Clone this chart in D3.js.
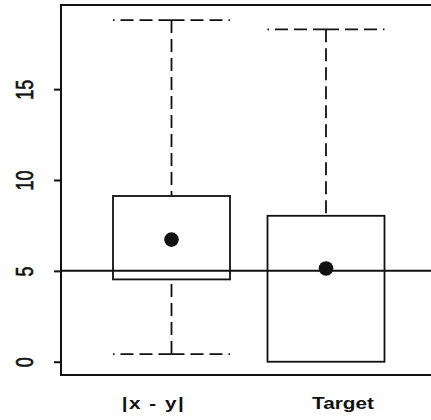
<!DOCTYPE html>
<html>
<head>
<meta charset="utf-8">
<script src="https://cdn.jsdelivr.net/npm/d3@7"></script>
<style>
  html, body { margin: 0; padding: 0; background: #fff; }
  svg { display: block; }
  text { font-family: "Liberation Sans", Arial, Helvetica, sans-serif; fill: #111; }
</style>
</head>
<body>
<div id="chart"></div>
<script>
// Box summaries for the two quantities
const categories  = ["|x - y|", "Target"];
const whiskerLow  = [0.42, 0.0];
const lowerQuart  = [4.53, 0.0];
const upperQuart  = [9.12, 8.03];
const whiskerHigh = [18.8, 18.29];
const means       = [6.72, 5.13];
const refLine     = 5;
const yTicks      = [0, 5, 10, 15];

const W = 431, H = 420;
const frame = { left: 61, top: 5, right: 445, bottom: 375 };
const boxWidth = 117;
const labelShift = [-18, 17];
const labelSpacing = [1.2, 0];
const ink = "#111";

const svg = d3.select("#chart").append("svg")
  .attr("width", W).attr("height", H);

const y = d3.scaleLinear().domain([-0.73, 19.63]).range([frame.bottom, frame.top]);
const x = d3.scalePoint().domain(categories).range([171.5, 326]);

// plot frame
svg.append("rect")
  .attr("x", frame.left).attr("y", frame.top)
  .attr("width", frame.right - frame.left).attr("height", frame.bottom - frame.top)
  .attr("fill", "none").attr("stroke", ink).attr("stroke-width", 2);

// y axis
const yAxis = svg.append("g")
  .attr("transform", `translate(${frame.left},0)`)
  .call(d3.axisLeft(y).tickValues(yTicks).tickSize(7).tickFormat(d3.format("d")));
yAxis.select(".domain").remove();
yAxis.selectAll(".tick line").attr("stroke", ink).attr("stroke-width", 2);
yAxis.selectAll(".tick text")
  .attr("x", null).attr("dy", null)
  .attr("transform", "translate(-28.5,0) rotate(-90) scale(1,1.28)")
  .attr("text-anchor", "middle")
  .style("font-size", "18px")
  .style("fill", ink)
  .style("stroke", ink).style("stroke-width", 0.5);

// reference line
svg.append("line")
  .attr("x1", frame.left).attr("x2", W)
  .attr("y1", y(refLine)).attr("y2", y(refLine))
  .attr("stroke", ink).attr("stroke-width", 2);

const dash = "13,6";
const boxes = svg.append("g");

categories.forEach((c, i) => {
  const cx = x(c);
  const g = boxes.append("g");
  const half = boxWidth / 2;

  // whiskers: drawn from their ends back toward the box
  [[whiskerHigh[i], upperQuart[i]], [whiskerLow[i], lowerQuart[i]]].forEach(([end, edge]) => {
    if (end === edge) return;
    g.append("line")
      .attr("x1", cx).attr("x2", cx)
      .attr("y1", y(end)).attr("y2", y(edge))
      .attr("stroke", ink).attr("stroke-width", 1.8)
      .attr("stroke-dasharray", dash);
    [-1, 1].forEach(side => {
      g.append("line")
        .attr("x1", cx).attr("x2", cx + side * half)
        .attr("y1", y(end)).attr("y2", y(end))
        .attr("stroke", ink).attr("stroke-width", 1.8)
        .attr("stroke-dasharray", dash);
    });
  });

  // box
  g.append("rect")
    .attr("x", cx - half).attr("width", boxWidth)
    .attr("y", y(upperQuart[i]))
    .attr("height", y(lowerQuart[i]) - y(upperQuart[i]))
    .attr("fill", "none").attr("stroke", ink).attr("stroke-width", 1.8);

  // mean
  g.append("circle")
    .attr("cx", cx).attr("cy", y(means[i])).attr("r", 7.3)
    .attr("fill", ink);

  // category label
  svg.append("text")
    .attr("transform", `translate(${cx + labelShift[i]},409) scale(1.22,1)`)
    .attr("text-anchor", "middle")
    .style("font-size", "17px").style("font-weight", "bold")
    .style("letter-spacing", labelSpacing[i] + "px")
    .style("white-space", "pre")
    .text(c);
});
</script>
</body>
</html>
